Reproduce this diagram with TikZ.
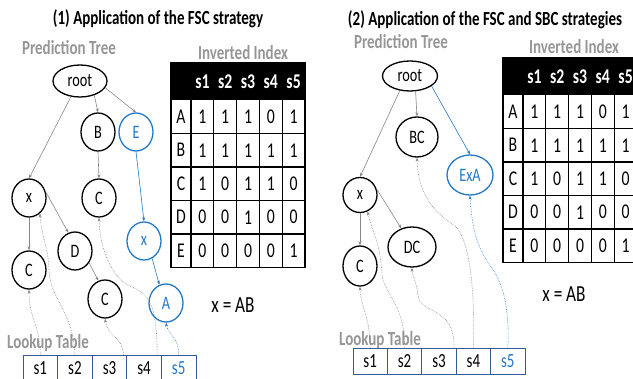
\documentclass[tikz,border=0pt]{standalone}
\usepackage{fontspec}
\setmainfont{Carlito}[FakeStretch=0.75]
\usetikzlibrary{shapes.geometric,arrows.meta}
\definecolor{hlblue}{RGB}{35,120,200}
\definecolor{lkblue}{RGB}{55,90,150}
\definecolor{lblgray}{RGB}{150,150,150}
\definecolor{edgegray}{RGB}{135,135,135}
\begin{document}
\begin{tikzpicture}[x=1pt,y=-1pt,
    tnode/.style={draw, ellipse, line width=1.3pt, inner sep=0pt, minimum width=34, minimum height=38, font=\fontsize{19}{19}\selectfont},
    hnode/.style={tnode, draw=hlblue, text=hlblue},
    tedge/.style={draw=edgegray, line width=0.6pt, -{Stealth[length=4pt,width=3pt]}},
    hedge/.style={tedge, draw=hlblue},
    lookup/.style={tedge, densely dotted},
    hlookup/.style={lookup, draw=hlblue},
    title/.style={font=\bfseries\fontsize{20}{20}\selectfont},
    lbl/.style={font=\bfseries\fontsize{20}{20}\selectfont, text=lblgray},
    ixtext/.style={font=\fontsize{21}{21}\selectfont},
    cell/.style={draw=lkblue, line width=0.8pt, minimum width=34.5, minimum height=26, inner sep=0pt, font=\fontsize{20}{20}\selectfont}
  ]
    \useasboundingbox (0,0) rectangle (633,379);

    % Titles and labels
    \node[title] (title1) at (158,19) {(1) Application of the FSC strategy};
    \node[title] (title2) at (485,20) {(2) Application of the FSC and SBC strategies};
    \node[lbl] (pt1) at (69,48) {Prediction Tree};
    \node[lbl] (ii1) at (243,53) {Inverted Index};
    \node[lbl] (pt2) at (401,42) {Prediction Tree};
    \node[lbl] (ii2) at (574,47) {Inverted Index};
    \node[lbl] (lt1) at (48,343) {Lookup Table};
    \node[lbl] (lt2) at (380,340) {Lookup Table};
    \node[ixtext, font=\fontsize{23}{23}\selectfont] (eq1) at (233,305) {x = AB};
    \node[ixtext, font=\fontsize{23}{23}\selectfont] (eq2) at (564,294) {x = AB};

    % Draw inverted indexes
    \foreach \p/\ox/\oy in {a/171/63, b/503/58} {
        \begin{scope}[shift={(\ox,\oy)}]
            \fill (0,0) rectangle (134,37);
            \foreach \j in {1,...,5}
                \node[ixtext, text=white, font=\bfseries\fontsize{21}{21}\selectfont] (\p-h\j) at ({20+22.8*(\j-0.5)},18.5) {s\j};
            \foreach \k in {1,...,4}
                \draw[line width=1.2pt] (0,{37+33.5*\k}) -- (134,{37+33.5*\k});
            \foreach \xx in {20,42.8,65.6,88.4,111.2}
                \draw[line width=1.2pt] (\xx,37) -- (\xx,204.5);
            \draw[line width=1.6pt] (0,0) rectangle (134,204.5);
            \foreach \r/\a/\b/\c/\d/\e [count=\i] in {A/1/1/1/0/1, B/1/1/1/1/1, C/1/0/1/1/0, D/0/0/1/0/0, E/0/0/0/0/1} {
                \node[ixtext] (\p-\r) at (10,{37+33.5*(\i-0.5)}) {\r};
                \foreach \v [count=\j] in {\a,\b,\c,\d,\e}
                    \node[ixtext] (\p-\r\j) at ({20+22.8*(\j-0.5)},{37+33.5*(\i-0.5)}) {\v};
            }
        \end{scope}
    }

    % Draw lookup tables
    \foreach \j in {1,...,4} {
        \node[cell] (la\j) at ({23+34.6*(\j-0.5)},368) {s\j};
        \node[cell] (lb\j) at ({353+34.4*(\j-0.5)},361.5) {s\j};
    }
    \node[cell, text=hlblue] (la5) at ({23+34.6*4.5},368) {s5};
    \node[cell, text=hlblue] (lb5) at ({353+34.4*4.5},361.5) {s5};

    % Prediction tree (1)
    \node[tnode, minimum width=54, minimum height=32] (root1) at (80,81) {root};
    \node[tnode] (B1) at (98,132) {B};
    \node[hnode] (E1) at (136,132) {E};
    \node[tnode] (x1) at (29,198) {x};
    \node[tnode] (Cb1) at (99,198) {C};
    \node[tnode] (Cx1) at (29,270) {C};
    \node[tnode] (D1) at (75,251) {D};
    \node[tnode] (Cd1) at (105,299) {C};
    \node[hnode] (xb1) at (144,241) {x};
    \node[hnode] (A1) at (166,303) {A};

    \draw[tedge] (root1.240) -- (x1.north);
    \draw[tedge] (root1.-45) -- (B1.north);
    \draw[tedge] (root1.-15) -- (E1.north);
    \draw[tedge] (B1.south) -- (Cb1.north);
    \draw[hedge] (E1.south) -- (xb1.north);
    \draw[hedge] (xb1.-65) -- (A1.110);
    \draw[tedge] (x1.south) -- (Cx1.north);
    \draw[tedge] (x1.20) -- (D1.110);
    \draw[tedge] (D1.-40) -- (Cd1.110);

    % Lookup links (1)
    \draw[lookup] (la1.north) .. controls (40,325) and (29,318) .. (Cx1.south);
    \draw[lookup] (la2.north) .. controls (73,310) and (50,300) .. (49,270)
        .. controls (48,245) and (42,240) .. (x1.-55);
    \draw[lookup] ([xshift=14]la3.north) .. controls (122,335) and (108,338) .. (Cd1.south);
    \draw[lookup] ([xshift=13]la4.north) .. controls (157,305) and (150,295) .. (130,286)
        .. controls (112,278) and (100,250) .. (Cb1.south);
    \draw[hlookup] (la5.north) .. controls (178,335) and (168,335) .. (A1.south);

    % Prediction tree (2)
    \node[tnode, minimum width=55, minimum height=30] (root2) at (410,76) {root};
    \node[tnode, minimum width=42, minimum height=40] (BC2) at (417,137) {BC};
    \node[hnode, minimum width=46, minimum height=40] (ExA2) at (470,175) {ExA};
    \node[tnode, minimum height=35] (x2) at (360,195) {x};
    \node[tnode, minimum height=40] (C2) at (360,266) {C};
    \node[tnode, minimum width=48, minimum height=40] (DC2) at (412,247) {DC};

    \draw[tedge] (root2.235) -- (x2.north);
    \draw[tedge] (root2.-70) -- (BC2.north);
    \draw[hedge] (root2.-25) -- (ExA2.north);
    \draw[tedge] (x2.south) -- (C2.north);
    \draw[tedge] (x2.20) -- (DC2.120);

    % Lookup links (2)
    \draw[lookup] (lb1.north) .. controls (370,315) and (360,305) .. (C2.south);
    \draw[lookup] (lb2.north) .. controls (405,305) and (385,295) .. (382,275)
        .. controls (380,240) and (373,235) .. (x2.-65);
    \draw[lookup] ([xshift=15]lb3.north) .. controls (455,305) and (420,315) .. (418,295)
        .. controls (416,280) and (412,275) .. (DC2.south);
    \draw[lookup] (lb4.north) .. controls (475,290) and (470,240) .. (455,226)
        .. controls (430,210) and (418,190) .. (BC2.south);
    \draw[hlookup] (lb5.north) .. controls (510,300) and (500,280) .. (492,268)
        .. controls (478,250) and (472,230) .. (ExA2.south);
\end{tikzpicture}
\end{document}
